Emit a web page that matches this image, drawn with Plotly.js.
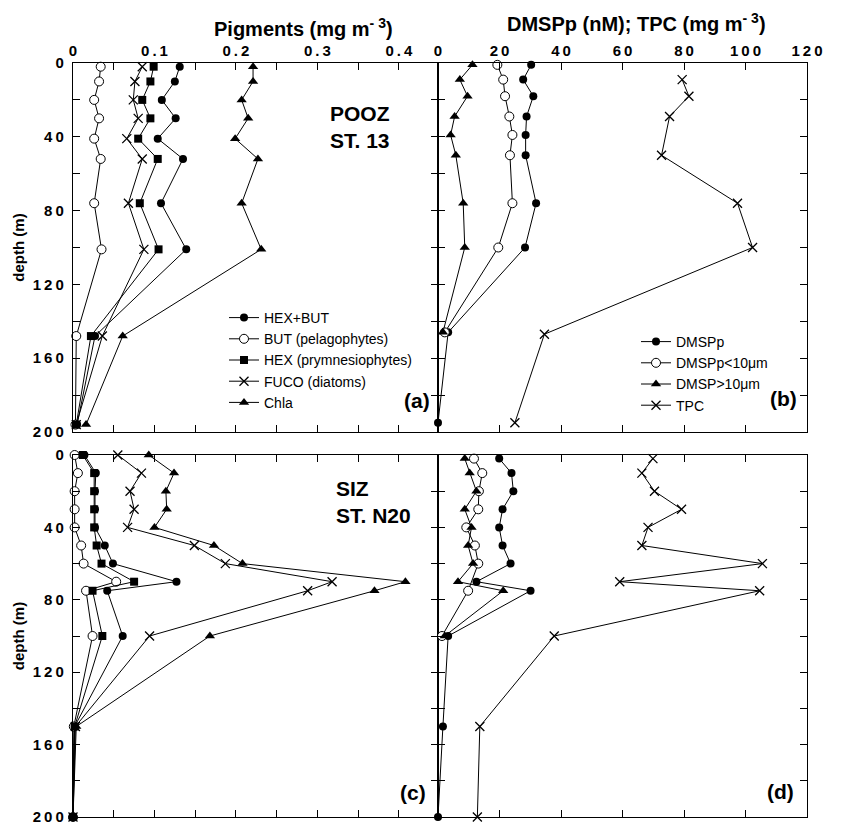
<!DOCTYPE html>
<html><head><meta charset="utf-8">
<script src="https://cdn.plot.ly/plotly-3.0.1.min.js"></script>
<style>html,body{margin:0;padding:0;background:#fff}#chart{width:841px;height:826px}</style>
</head><body><div id="chart"></div>
<script>
// ---------- Panel (a): POOZ St. 13 pigments (mg m-3) ----------
const depthA   = [2, 10, 20, 30, 41, 52, 76, 101, 148, 196];
const hexButA  = [0.131, 0.125, 0.109, 0.126, 0.104, 0.135, 0.108, 0.139, 0.027, 0.005];
const butA     = [0.034, 0.032, 0.026, 0.032, 0.026, 0.034, 0.026, 0.035, 0.004, 0.003];
const hexA     = [0.099, 0.095, 0.085, 0.095, 0.080, 0.104, 0.082, 0.105, 0.022, 0.004];
const fucoA    = [0.085, 0.076, 0.074, 0.080, 0.066, 0.085, 0.068, 0.087, 0.036, 0.004];
const chlaA    = [0.221, 0.221, 0.207, 0.215, 0.199, 0.227, 0.207, 0.231, 0.061, 0.016];

// ---------- Panel (b): POOZ St. 13 DMSPp (nM), TPC (mg m-3) ----------
const depthB    = [1, 9, 18, 29, 39, 50, 76, 100, 146, 195];
const dmspB     = [30.3, 27.7, 31.0, 28.8, 28.5, 28.5, 31.9, 28.3, 3.3, 0];
const depthBs   = [1, 9, 18, 29, 39, 50, 76, 100, 146];
const dmspSmB   = [19.3, 21.2, 21.8, 23.2, 24.2, 23.4, 24.2, 19.6, 2.2];
const dmspLgB   = [11.2, 7.1, 9.6, 5.4, 4.1, 5.8, 8.2, 8.7, 1.6];
const depthTpcB = [9, 18, 29, 50, 76, 100, 147, 195];
const tpcB      = [79.4, 81.6, 75.3, 72.7, 97.4, 102.3, 34.6, 25.0];

// ---------- Panel (c): SIZ St. N20 pigments ----------
const depthC   = [0, 10, 20, 30, 40, 50, 60, 70, 75, 100, 150, 200];
const hexButC  = [0.014, 0.028, 0.027, 0.027, 0.027, 0.039, 0.049, 0.127, 0.042, 0.061, 0.002, 0];
const butC     = [0.002, 0.006, 0.002, 0.002, 0.002, 0.010, 0.013, 0.053, 0.016, 0.024, 0.001, 0];
const hexC     = [0.012, 0.026, 0.026, 0.026, 0.026, 0.029, 0.035, 0.075, 0.024, 0.036, 0.002, 0];
const fucoC    = [0.055, 0.084, 0.070, 0.075, 0.067, 0.149, 0.187, 0.318, 0.288, 0.094, 0.003, 0];
const chlaC    = [0.093, 0.124, 0.114, 0.115, 0.100, 0.173, 0.208, 0.408, 0.370, 0.168, 0.004, 0];

// ---------- Panel (d): SIZ St. N20 DMSPp, TPC ----------
const depthD    = [2, 10, 20, 30, 40, 50, 60, 70, 75, 100, 150, 200];
const dmspD     = [19.9, 23.9, 24.5, 21.0, 19.9, 21.0, 23.6, 12.5, 30.1, 3.3, 1.6, 0];
const depthDs   = [2, 10, 20, 30, 40, 50, 60, 75, 100];
const dmspSmD   = [11.7, 14.4, 13.3, 13.1, 9.2, 12.0, 13.1, 9.8, 1.3];
const depthDl   = [2, 10, 20, 30, 40, 50, 60, 70, 75, 100];
const dmspLgD   = [8.7, 10.3, 12.5, 8.7, 10.9, 9.8, 11.4, 6.5, 21.2, 2.2];
const tpcD      = [69.9, 66.3, 70.4, 79.2, 68.3, 66.3, 105.5, 59.1, 104.6, 37.8, 13.6, 12.8];

// ---------- Tick labels and titles ----------
const pigTickVals  = [0, 0.1, 0.2, 0.3, 0.4];
const pigTickText  = ['0', '0.1', '0.2', '0.3', '0.4'];
const dmsTickVals  = [0, 20, 40, 60, 80, 100, 120];
const dmsTickText  = ['0', '20', '40', '60', '80', '100', '120'];
const depTickVals  = [0, 40, 80, 120, 160, 200];
const depTickText  = ['0', '40', '80', '120', '160', '200'];
const pigTitle = 'Pigments (mg m<sup>- 3</sup>)';
const dmsTitle = 'DMSPp (nM); TPC (mg m<sup>- 3</sup>)';

const sp = s => s.split('').join('\u2009');
const FONT = 'Liberation Sans, Arial, Helvetica, sans-serif';

const ST = {
  fc: {symbol: 'circle', size: 8, color: '#000'},
  oc: {symbol: 'circle', size: 9, color: '#fff', line: {color: '#000', width: 1}},
  sq: {symbol: 'square', size: 8, color: '#000'},
  xx: {symbol: 'x-thin', size: 9, color: '#000', line: {color: '#000', width: 1.3}},
  tr: {symbol: 'triangle-up', size: 9, color: '#000'}
};

function tr(name, x, y, m, xa, ya, legend, show) {
  return {type: 'scatter', mode: 'lines+markers', name: name, x: x, y: y,
    xaxis: xa, yaxis: ya, legend: legend, showlegend: show,
    line: {color: '#000', width: 1}, marker: m, cliponaxis: false, hoverinfo: 'skip'};
}

const data = [
  tr('HEX+BUT', hexButA, depthA, ST.fc, 'x', 'y', 'legend', true),
  tr('BUT (pelagophytes)', butA, depthA, ST.oc, 'x', 'y', 'legend', true),
  tr('HEX (prymnesiophytes)', hexA, depthA, ST.sq, 'x', 'y', 'legend', true),
  tr('FUCO (diatoms)', fucoA, depthA, ST.xx, 'x', 'y', 'legend', true),
  tr('Chla', chlaA, depthA, ST.tr, 'x', 'y', 'legend', true),

  tr('DMSPp', dmspB, depthB, ST.fc, 'x2', 'y2', 'legend2', true),
  tr('DMSPp<10\u03bcm', dmspSmB, depthBs, ST.oc, 'x2', 'y2', 'legend2', true),
  tr('DMSP>10\u03bcm', dmspLgB, depthBs, ST.tr, 'x2', 'y2', 'legend2', true),
  tr('TPC', tpcB, depthTpcB, ST.xx, 'x2', 'y2', 'legend2', true),

  tr('HEX+BUT', hexButC, depthC, ST.fc, 'x3', 'y3', 'legend', false),
  tr('BUT (pelagophytes)', butC, depthC, ST.oc, 'x3', 'y3', 'legend', false),
  tr('HEX (prymnesiophytes)', hexC, depthC, ST.sq, 'x3', 'y3', 'legend', false),
  tr('FUCO (diatoms)', fucoC, depthC, ST.xx, 'x3', 'y3', 'legend', false),
  tr('Chla', chlaC, depthC, ST.tr, 'x3', 'y3', 'legend', false),

  tr('DMSPp', dmspD, depthD, ST.fc, 'x4', 'y4', 'legend2', false),
  tr('DMSPp<10\u03bcm', dmspSmD, depthDs, ST.oc, 'x4', 'y4', 'legend2', false),
  tr('DMSP>10\u03bcm', dmspLgD, depthDl, ST.tr, 'x4', 'y4', 'legend2', false),
  tr('TPC', tpcD, depthD, ST.xx, 'x4', 'y4', 'legend2', false)
];

const tickFont = {family: FONT, size: 15, weight: 'bold', color: '#000'};
function ax(extra) {
  return Object.assign({
    showline: true, linecolor: '#000', linewidth: 1.2, mirror: 'ticks',
    ticks: 'inside', ticklen: 7, tickwidth: 1, tickcolor: '#000',
    showgrid: false, zeroline: false, fixedrange: true, automargin: false,
    ticklabeloverflow: 'allow', tickfont: tickFont
  }, extra);
}
const pigX = (dom, anchor, labels) => ax({
  domain: dom, anchor: anchor, side: 'top', range: [0, 0.448],
  tickmode: 'array', tickvals: pigTickVals, ticktext: pigTickText.map(sp),
  showticklabels: labels,
  minor: {tickmode: 'linear', tick0: 0, dtick: 0.05, ticks: 'inside', ticklen: 7, tickcolor: '#000', tickwidth: 1, showgrid: false}
});
const dmsX = (dom, anchor, labels) => ax({
  domain: dom, anchor: anchor, side: 'top', range: [0, 120],
  tickmode: 'array', tickvals: dmsTickVals, ticktext: dmsTickText.map(sp),
  showticklabels: labels
});
const depY = (dom, anchor, labels) => {
  const o = ax({
    domain: dom, anchor: anchor, range: [200, 0],
    tickmode: 'array', tickvals: depTickVals, ticktext: depTickText.map(sp),
    showticklabels: labels, ticklabelstandoff: 5,
    minor: {tickmode: 'linear', tick0: 0, dtick: 20, ticks: 'inside', ticklen: 7, tickcolor: '#000', tickwidth: 1, showgrid: false}
  });
  if (labels) o.title = {text: 'depth (m)', font: {family: FONT, size: 15, weight: 'bold', color: '#000'}, standoff: 4};
  return o;
};

const L = 73, T = 63, B = 9, W = 841 - 73 - 34, H = 826 - T - B;
const px = v => (v - L) / W;
const py = v => (826 - B - v) / H;
const xa = [0, px(438)], xb = [px(438), 1];
const yTop = [py(432), 1], yBot = [0, py(455)];

const annFont = s => ({family: FONT, size: s, weight: 'bold', color: '#000'});
function ann(text, x, y, size, xanchor) {
  return {xref: 'paper', yref: 'paper', x: px(x), y: py(y), xanchor: xanchor || 'center', yanchor: 'middle',
    showarrow: false, align: 'left', text: text, font: annFont(size)};
}
const layout = {
  width: 841, height: 826,
  margin: {l: L, r: 34, t: T, b: B, pad: 0},
  paper_bgcolor: '#fff', plot_bgcolor: 'rgba(0,0,0,0)',
  font: {family: FONT, color: '#000'},
  xaxis: pigX(xa, 'y', true),
  yaxis: depY(yTop, 'x', true),
  xaxis2: dmsX(xb, 'y2', true),
  yaxis2: depY(yTop, 'x2', false),
  xaxis3: pigX(xa, 'y3', false),
  yaxis3: depY(yBot, 'x3', true),
  xaxis4: dmsX(xb, 'y4', false),
  yaxis4: depY(yBot, 'x4', false),
  legend: {x: px(224), y: py(302), xanchor: 'left', yanchor: 'top', bgcolor: 'rgba(0,0,0,0)',
    font: {family: FONT, size: 14, color: '#000'}, tracegroupgap: 0, itemwidth: 30},
  legend2: {x: px(636), y: py(326), xanchor: 'left', yanchor: 'top', bgcolor: 'rgba(0,0,0,0)',
    font: {family: FONT, size: 14, color: '#000'}, tracegroupgap: 0, itemwidth: 30},
  annotations: [
    ann(pigTitle, 303, 27, 20),
    ann(dmsTitle, 636, 23, 20),
    ann('POOZ<br>ST. 13', 328, 127, 21, 'left'),
    ann('SIZ<br>ST. N20', 334, 502, 21, 'left'),
    ann('(a)', 417, 400, 21),
    ann('(b)', 783, 399, 21),
    ann('(c)', 413, 792, 21),
    ann('(d)', 780, 791, 21)
  ]
};

Plotly.newPlot('chart', data, layout, {displayModeBar: false, staticPlot: true});
</script>
</body></html>
